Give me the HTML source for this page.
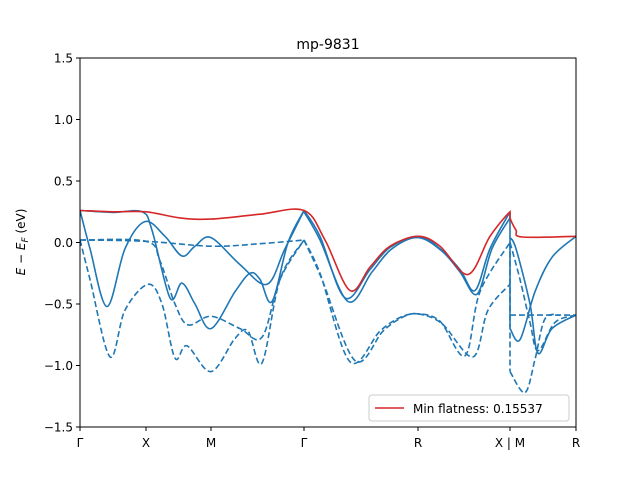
<!DOCTYPE html>
<html><head><meta charset="utf-8"><style>
body{margin:0;background:#fff;}
svg text{font-family:"DejaVu Sans","Liberation Sans",sans-serif;}
</style></head><body>
<svg id="chart" width="640" height="480" viewBox="0 0 640 480" xmlns="http://www.w3.org/2000/svg">
<rect width="640" height="480" fill="#fff"/>
<text x="328" y="49" font-size="14" text-anchor="middle">mp-9831</text>
<g id="plot"></g>
<rect x="80" y="58" width="496" height="369" fill="none" stroke="#000" stroke-width="1"/>
<g id="axes"></g>
<text transform="translate(25,242) rotate(-90)" font-size="12" text-anchor="middle"><tspan font-style="italic">E</tspan> − <tspan font-style="italic">E</tspan><tspan font-style="italic" font-size="9" dy="3">F</tspan><tspan dy="-3"> (eV)</tspan></text>
<g>
<rect x="369" y="395" width="200" height="26" rx="3" fill="#fff" fill-opacity="0.8" stroke="#ccc"/>
<line x1="375" y1="408" x2="404" y2="408" stroke="#d62728" stroke-width="1.5"/>
<text x="413" y="413" font-size="12">Min flatness: 0.15537</text>
</g>
</svg>
<script>
// k-path positions (units), tick labels, energy ticks
const kTicks=[0,0.66,1.31,2.24,3.38,4.30,4.96];
const kLabels=["Γ","X","M","Γ","R","X | M","R"];
const eTicks=[1.5,1.0,0.5,0.0,-0.5,-1.0,-1.5];
// bands: [k, E] pairs
const flatBand=[[0,0.26],[0.33,0.25],[0.66,0.25],[1.0,0.20],[1.31,0.19],[1.8,0.23],[2.24,0.26],[2.45,0.02],[2.70,-0.39],[2.9,-0.2],[3.1,-0.03],[3.38,0.05],[3.6,-0.03],[3.88,-0.26],[4.1,0.05],[4.30,0.25],[4.30,0.20],[4.36,0.10],[4.42,0.045],[4.96,0.05]];
const solidBands=[
[[0,0.26],[0.1,-0.05],[0.27,-0.52],[0.45,-0.05],[0.65,0.17],[0.85,0.05],[1.02,-0.11],[1.15,-0.03],[1.31,0.04],[1.6,-0.18],[1.87,-0.34],[2.05,-0.05],[2.24,0.26]],
[[0,0.26],[0.33,0.245],[0.62,0.25],[0.72,0.1],[0.90,-0.45],[1.02,-0.33],[1.15,-0.5],[1.31,-0.70],[1.55,-0.4],[1.70,-0.25],[1.80,-0.30],[1.92,-0.48],[2.08,0.0],[2.24,0.26]],
[[2.24,0.26],[2.4,0.05],[2.65,-0.45],[2.9,-0.22],[3.1,-0.04],[3.38,0.05],[3.6,-0.05],[3.8,-0.22],[3.95,-0.39],[4.1,-0.05],[4.30,0.25]],
[[2.24,0.25],[2.4,0.02],[2.68,-0.48],[2.92,-0.24],[3.12,-0.05],[3.38,0.04],[3.62,-0.07],[3.8,-0.24],[3.97,-0.42],[4.12,-0.05],[4.30,0.20]],
[[4.30,0.25],[4.30,-0.69]],
[[4.30,0.04],[4.36,-0.05],[4.50,-0.5],[4.58,-0.9],[4.72,-0.7],[4.96,-0.59]],
[[4.30,-0.70],[4.40,-0.79],[4.55,-0.4],[4.72,-0.12],[4.96,0.05]]
];
const dashedBands=[
[[0,0.02],[0.66,0.01],[1.31,-0.03],[1.8,-0.01],[2.24,0.02]],
[[0,0.02],[0.66,0.01],[0.8,-0.15],[0.95,-0.5],[1.08,-0.67],[1.31,-0.60],[1.6,-0.70],[1.82,-0.77],[2.0,-0.3],[2.24,0.02]],
[[0,0.02],[0.1,-0.3],[0.30,-0.93],[0.45,-0.55],[0.68,-0.34],[0.82,-0.50],[0.95,-0.94],[1.07,-0.84],[1.31,-1.05],[1.55,-0.78],[1.68,-0.72],[1.82,-0.98],[2.0,-0.3],[2.24,0.02]],
[[2.24,0.02],[2.4,-0.25],[2.70,-0.97],[3.0,-0.72],[3.2,-0.61],[3.38,-0.58],[3.6,-0.64],[3.85,-0.92],[4.0,-0.4],[4.30,0.00]],
[[2.24,0.02],[2.42,-0.3],[2.75,-0.96],[3.03,-0.72],[3.22,-0.61],[3.38,-0.58],[3.62,-0.66],[3.93,-0.93],[4.08,-0.55],[4.30,-0.34]],
[[4.30,-0.59],[4.96,-0.59]],
[[4.30,0.0],[4.40,-0.3],[4.50,-0.65],[4.58,-0.88],[4.75,-0.65],[4.96,-0.59]],
[[4.30,-1.05],[4.45,-1.22],[4.55,-0.95],[4.65,-0.62],[4.80,-0.59]],
[[4.30,0.0],[4.30,-1.05]]
];
const X0=80,X1=576,Y0=58,Y1=427,KMAX=4.96,EMIN=-1.5,EMAX=1.5;
const xs=k=>X0+(k/KMAX)*(X1-X0);
const ys=e=>Y1-(e-EMIN)/(EMAX-EMIN)*(Y1-Y0);
const NS="http://www.w3.org/2000/svg";
function pathFor(pts){
  const p=pts.map(d=>[xs(d[0]),ys(d[1])]);
  let d="M"+p[0][0].toFixed(1)+","+p[0][1].toFixed(1);
  for(let i=0;i<p.length-1;i++){
    const a=p[i-1]||p[i],b=p[i],c=p[i+1],e=p[i+2]||c;
    if(Math.abs(b[0]-c[0])<0.5){d+="L"+c[0].toFixed(1)+","+c[1].toFixed(1);continue;}
    const c1=[b[0]+(c[0]-a[0])/6,b[1]+(c[1]-a[1])/6],c2=[c[0]-(e[0]-b[0])/6,c[1]-(e[1]-b[1])/6];
    d+="C"+c1.map(v=>v.toFixed(1))+" "+c2.map(v=>v.toFixed(1))+" "+c[0].toFixed(1)+","+c[1].toFixed(1);
  }
  return d;
}
const plot=document.getElementById("plot");
const clip=document.createElementNS(NS,"clipPath");clip.id="cp";
const cr=document.createElementNS(NS,"rect");cr.setAttribute("x",X0);cr.setAttribute("y",Y0);cr.setAttribute("width",X1-X0);cr.setAttribute("height",Y1-Y0);
clip.appendChild(cr);plot.appendChild(clip);plot.setAttribute("clip-path","url(#cp)");
function draw(pts,color,dash,name){
  const el=document.createElementNS(NS,"path");
  el.setAttribute("d",pathFor(pts));el.setAttribute("fill","none");el.setAttribute("stroke",color);
  el.setAttribute("stroke-width","1.6");if(dash)el.setAttribute("stroke-dasharray","6,3");
  
  
  plot.appendChild(el);
}
solidBands.forEach((b,i)=>draw(b,"#1f77b4",false,"solid-band-"+i));
dashedBands.forEach((b,i)=>draw(b,"#1f77b4",true,"dashed-band-"+i));
draw(flatBand,"#d62728",false,"flat-band");
const ax=document.getElementById("axes");
kTicks.forEach((k,i)=>{
  const l=document.createElementNS(NS,"line");l.setAttribute("x1",xs(k));l.setAttribute("x2",xs(k));l.setAttribute("y1",Y1);l.setAttribute("y2",Y1+4);l.setAttribute("stroke","#000");
  
  
  ax.appendChild(l);
  const t=document.createElementNS(NS,"text");t.setAttribute("x",xs(k));t.setAttribute("y",Y1+20);t.setAttribute("font-size","12");t.setAttribute("text-anchor","middle");t.textContent=kLabels[i];
  
  
  ax.appendChild(t);
});
eTicks.forEach(e=>{
  const l=document.createElementNS(NS,"line");l.setAttribute("x1",X0-4);l.setAttribute("x2",X0);l.setAttribute("y1",ys(e));l.setAttribute("y2",ys(e));l.setAttribute("stroke","#000");
  
  
  ax.appendChild(l);
  const t=document.createElementNS(NS,"text");t.setAttribute("x",X0-7);t.setAttribute("y",ys(e)+4.5);t.setAttribute("font-size","12");t.setAttribute("text-anchor","end");
  t.textContent=(e<0?"−":"")+Math.abs(e).toFixed(1);
  
  
  ax.appendChild(t);
});
</script>
</body></html>
